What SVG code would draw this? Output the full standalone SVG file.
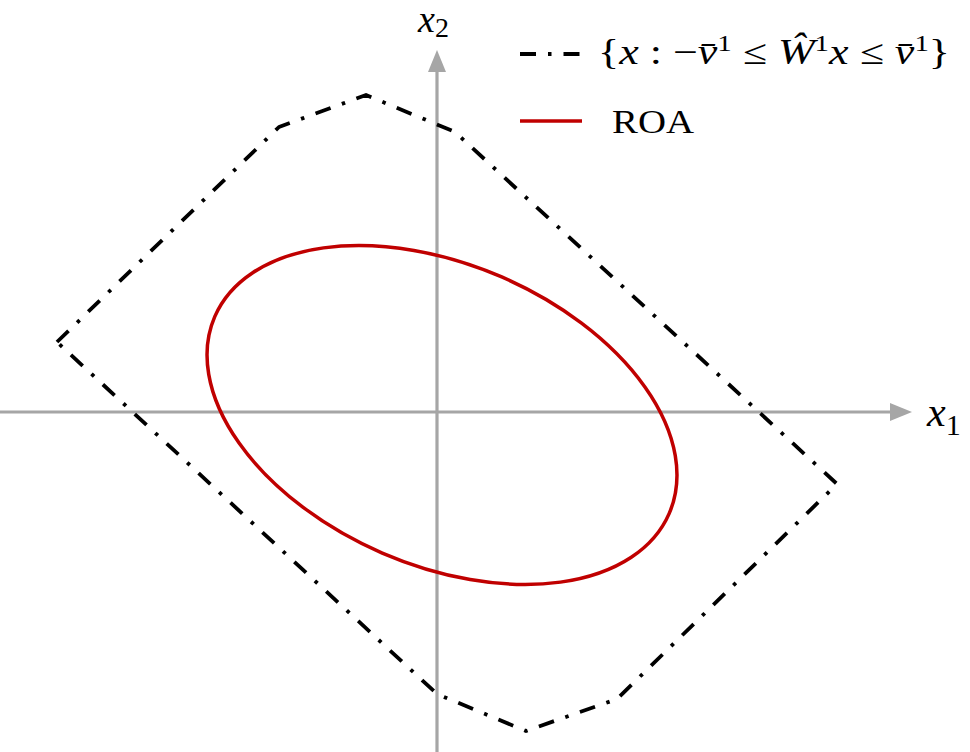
<svg xmlns="http://www.w3.org/2000/svg" width="970" height="752" viewBox="0 0 970 752">
<style>
.axis{stroke:#a6a6a6;stroke-width:3.2;fill:none}
.poly{stroke:#000;stroke-width:3.8;fill:none;stroke-dasharray:16 12 3.5 12;stroke-linejoin:round}
.roa{stroke:#c00000;stroke-width:3.5;fill:none}
.it{font-style:italic}
</style>
<g id="axes">
<line class="axis" x1="0" y1="412" x2="893" y2="412"/>
<path d="M890,403 L912,412 L890,421 Z" fill="#a6a6a6"/>
<line class="axis" x1="437" y1="752" x2="437" y2="70"/>
<path d="M428,72 L437,50 L446,72 Z" fill="#a6a6a6"/>
<text x="927" y="426" font-family="'Liberation Serif', 'DejaVu Serif', serif" font-size="42" fill="#000"><tspan class="it">x</tspan><tspan font-size="30" dy="9">1</tspan></text>
<text x="418" y="32" font-family="'Liberation Serif', 'DejaVu Serif', serif" font-size="38" fill="#000"><tspan class="it">x</tspan><tspan font-size="28" dy="5">2</tspan></text>
</g>
<g id="polytope">
<path class="poly" d="M57,342 L279,127 L366,95 L455,132 L837,484 L617,699 L526,731 L437,694 Z"/>
</g>
<g id="roa">
<ellipse class="roa" cx="442" cy="415" rx="247.6" ry="150.4" transform="rotate(23.4 442 415)"/>
</g>
<g id="legend">
<line x1="520" y1="54" x2="580" y2="54" stroke="#000" stroke-width="3.8" stroke-dasharray="16 12 3.5 12"/>
<text x="598" y="64" font-family="'Liberation Serif', 'DejaVu Serif', serif" font-size="35" fill="#000" textLength="352" lengthAdjust="spacingAndGlyphs">{<tspan class="it">x</tspan> : −<tspan class="it">v̄</tspan><tspan font-size="23" dy="-13">1</tspan><tspan dy="13"> ≤ </tspan><tspan class="it">Ŵ</tspan><tspan font-size="23" dy="-13">1</tspan><tspan class="it" dy="13">x</tspan> ≤ <tspan class="it">v̄</tspan><tspan font-size="23" dy="-13">1</tspan><tspan dy="13">}</tspan></text>
<line x1="520" y1="121" x2="582" y2="121" stroke="#c00000" stroke-width="3.5"/>
<text x="612" y="133" font-family="'Liberation Serif', 'DejaVu Serif', serif" font-size="34" fill="#000" textLength="82" lengthAdjust="spacingAndGlyphs">ROA</text>
</g>
</svg>
